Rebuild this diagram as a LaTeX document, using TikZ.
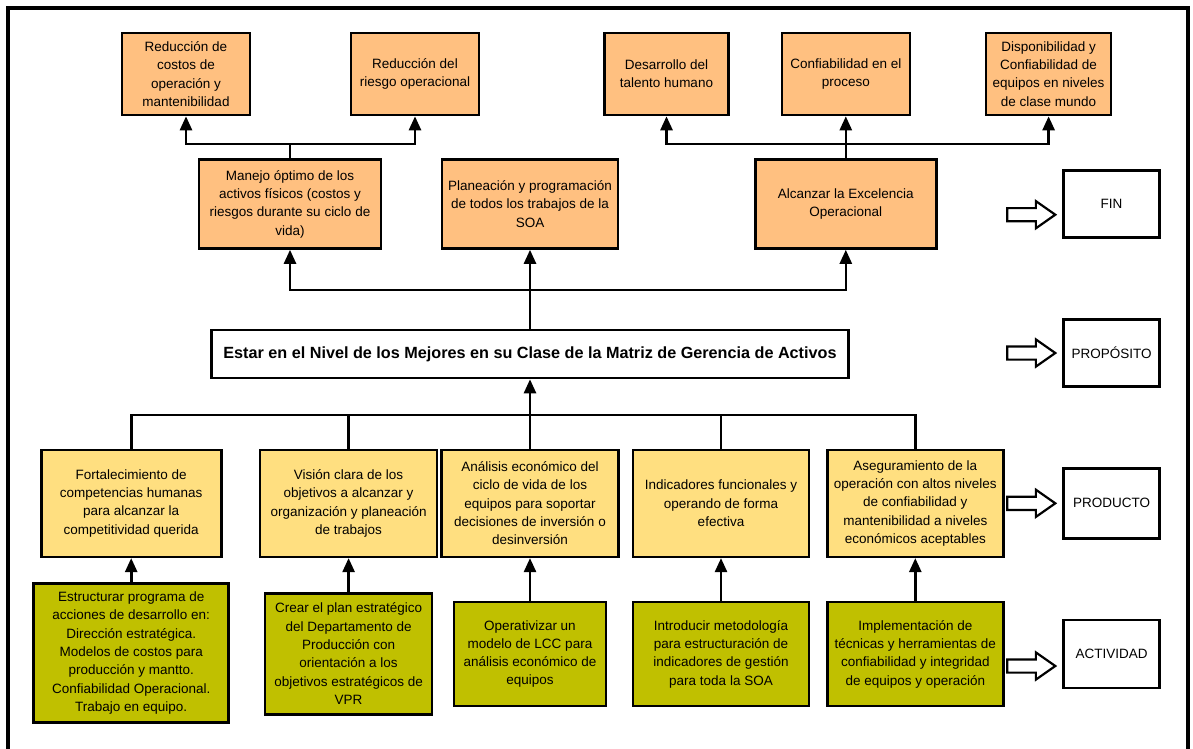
\documentclass[tikz,border=0pt]{standalone}
\usepackage{fontspec}
\setmainfont{Liberation Sans}
\usetikzlibrary{positioning, arrows.meta, shapes.arrows}
\definecolor{finfill}{HTML}{FFC080}
\definecolor{prodfill}{HTML}{FFDF80}
\definecolor{actfill}{HTML}{C0C000}
\tikzset{
  bx/.style={draw=black, line width=2.6pt, align=center, inner sep=2pt,
    text=black, font=\fontsize{13.5}{18.3}\selectfont},
  bxf/.style={bx, fill=finfill},
  bxp/.style={bx, fill=prodfill},
  bxa/.style={bx, fill=actfill},
  lvl/.style={bx, fill=white, minimum width=96pt},
  top/.style={minimum width=128pt, minimum height=82pt},
  mid/.style={minimum width=180pt, minimum height=89pt},
  bot/.style={minimum width=177pt, minimum height=107pt},
  harrow/.style={single arrow, draw=black, line width=2.2pt, fill=white,
    inner sep=0pt, inner ysep=5.5pt, minimum height=48pt,
    single arrow head extend=7pt, single arrow tip angle=70},
  flow/.style={-{Triangle[length=14pt, width=12pt]}, line width=2.6pt},
  wire/.style={line width=2.6pt},
}
\begin{document}
\begin{tikzpicture}[x=1pt, y=-1pt]
  \useasboundingbox (0,0) rectangle (1193,748);
  \draw[line width=3.4pt] (8,760) -- (8,8) -- (1188,8) -- (1188,760);

  \node[bxf, top] (b1) at (186,74) {Reducción de\\costos de\\operación y\\mantenibilidad};
  \node[bxf, top] (b2) at (415,74) {Reducción del\\riesgo operacional};
  \node[bxf, top, minimum width=124pt] (b3) at (666.5,74) {Desarrollo del\\talento humano};
  \node[bxf, top] (b4) at (845.8,74) {Confiabilidad en el\\proceso};
  \node[bxf, top, minimum width=125pt] (b5) at (1048.6,74) {Disponibilidad y\\Confiabilidad de\\equipos en niveles\\de clase mundo};

  \node[bxf, mid, minimum width=182pt] (m1) at (290,204) {Manejo óptimo de los\\activos físicos (costos y\\riesgos durante su ciclo de\\vida)};
  \node[bxf, mid, minimum width=176pt] (m2) at (530,204) {Planeación y programación\\de todos los trabajos de la\\SOA};
  \node[bxf, mid, minimum width=181pt] (m3) at (845.8,204) {Alcanzar la Excelencia\\Operacional};

  \node[bx, fill=white, minimum width=637pt, minimum height=48pt,
    font=\bfseries\fontsize{16.2}{18}\selectfont] (es) at (530,354)
    {Estar en el Nivel de los Mejores en su Clase de la Matriz de Gerencia de Activos};

  \node[bxp, bot, minimum width=180pt] (p1) at (131.2,503.3) {Fortalecimiento de\\competencias humanas\\para alcanzar la\\competitividad querida};
  \node[bxp, bot] (p2) at (348.6,503.3) {Visión clara de los\\objetivos a alcanzar y\\organización y planeación\\de trabajos};
  \node[bxp, bot] (p3) at (530,503.3) {Análisis económico del\\ciclo de vida de los\\equipos para soportar\\decisiones de inversión o\\desinversión};
  \node[bxp, bot, minimum width=176pt] (p4) at (721,503.3) {Indicadores funcionales y\\operando de forma\\efectiva};
  \node[bxp, bot, minimum width=176pt] (p5) at (915.3,503.3) {Aseguramiento de la\\operación con altos niveles\\de confiabilidad y\\mantenibilidad a niveles\\económicos aceptables};

  \node[bxa, minimum width=195pt, minimum height=139pt] (g1) at (131.2,653) {Estructurar programa de\\acciones de desarrollo en:\\Dirección estratégica.\\Modelos de costos para\\producción y mantto.\\Confiabilidad Operacional.\\Trabajo en equipo.};
  \node[bxa, minimum width=167pt, minimum height=121pt] (g2) at (348.6,653.7) {Crear el plan estratégico\\del Departamento de\\Producción con\\orientación a los\\objetivos estratégicos de\\VPR};
  \node[bxa, minimum width=152pt, minimum height=104pt] (g3) at (530,654) {Operativizar un\\modelo de LCC para\\análisis económico de\\equipos};
  \node[bxa, minimum width=176pt, minimum height=104pt] (g4) at (721,654) {Introducir metodología\\para estructuración de\\indicadores de gestión\\para toda la SOA};
  \node[bxa, minimum width=176pt, minimum height=104pt] (g5) at (915.3,654) {Implementación de\\técnicas y herramientas de\\confiabilidad y integridad\\de equipos y operación};

  \node[lvl, minimum height=67pt] (fin) at (1111.5,203.7) {FIN};
  \node[lvl, minimum height=67pt] (prop) at (1111.5,353) {PROPÓSITO};
  \node[lvl, minimum height=70pt] (prod) at (1111.5,503.3) {PRODUCTO};
  \node[lvl, minimum height=68pt] (act) at (1111.5,654) {ACTIVIDAD};
  \node[harrow, left=5pt of fin, yshift=-11pt] (afin) {};
  \node[harrow, left=5pt of prop] (aprop) {};
  \node[harrow, left=5pt of prod] (aprod) {};
  \node[harrow, left=5pt of act, yshift=-12pt] (aact) {};

  \coordinate (j1) at (290,144);
  \coordinate (j2) at (845.8,144);
  \coordinate (j3) at (530,290);
  \coordinate (j4) at (530,415);
  \draw[wire] (m1) -- (j1);
  \draw[flow] (j1) -| (b1); \draw[flow] (j1) -| (b2);
  \draw[flow] (m3) -- (b4);
  \draw[flow] (j2) -| (b3); \draw[flow] (j2) -| (b5);
  \draw[flow] (es) -- (m2);
  \draw[flow] (j3) -| (m1); \draw[flow] (j3) -| (m3);
  \draw[flow] (p3) -- (es);
  \draw[wire] (p1) |- (j4); \draw[wire] (p2) |- (j4);
  \draw[wire] (p4) |- (j4); \draw[wire] (p5) |- (j4);
  \draw[flow] (g1) -- (p1); \draw[flow] (g2) -- (p2); \draw[flow] (g3) -- (p3);
  \draw[flow] (g4) -- (p4); \draw[flow] (g5) -- (p5);
\end{tikzpicture}
\end{document}
